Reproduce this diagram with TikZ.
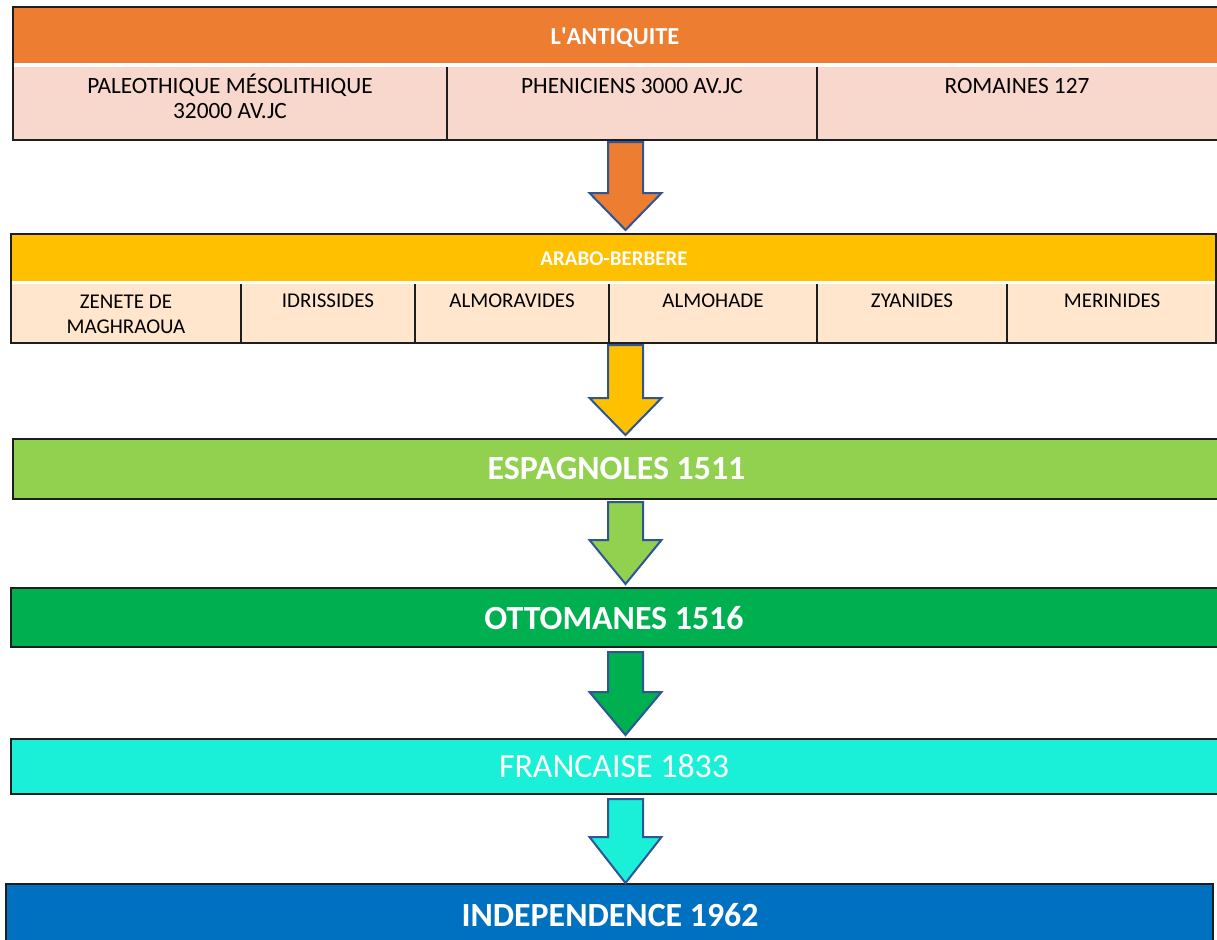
\documentclass[tikz,border=0pt]{standalone}
\usepackage{fontspec}
\setmainfont{Carlito}
\usetikzlibrary{fit}
\definecolor{antiq}{HTML}{ED7D31}
\definecolor{antiqlight}{HTML}{F8D7CD}
\definecolor{arabo}{HTML}{FFC000}
\definecolor{arabolight}{HTML}{FFE6CD}
\definecolor{espa}{HTML}{92D050}
\definecolor{otto}{HTML}{00B050}
\definecolor{fran}{HTML}{1AF0D8}
\definecolor{indep}{HTML}{0070C0}
\definecolor{arrowline}{HTML}{2F5597}
\definecolor{frameline}{HTML}{1E1E1E}
\newcommand{\blockarrowshape}[4]{%
  \filldraw[blockarrow, fill=#1] (608,#2) -- (643,#2) -- (643,#3) -- (661.5,#3) -- (625.5,#4) -- (589.5,#3) -- (608,#3) -- cycle;}
\begin{document}
\begin{tikzpicture}[x=0.75pt,y=-0.75pt,
  region/.style={inner sep=0pt, outer sep=0pt},
  frame/.style={draw=frameline, line width=1.5pt},
  divider/.style={draw=frameline, line width=1.2pt},
  blockarrow/.style={draw=arrowline, line width=1.5pt, line join=miter},
  cell/.style={anchor=base, align=center, inner sep=0pt, text=black, font=\fontsize{17.5}{18.75}\selectfont},
  cellsmall/.style={anchor=base, align=center, inner sep=0pt, text=black, font=\fontsize{15.75}{18.75}\selectfont},
  headtext/.style={anchor=base, inner sep=0pt, text=white, font=\bfseries\fontsize{18.3}{20}\selectfont},
  headsmall/.style={anchor=base, inner sep=0pt, text=white, font=\bfseries\fontsize{15.7}{18}\selectfont},
  bigtext/.style={anchor=base, inner sep=0pt, text=white, font=\bfseries\fontsize{25.4}{30}\selectfont},
  bigplain/.style={anchor=base, inner sep=0pt, text=white, font=\fontsize{25.4}{30}\selectfont}]
\useasboundingbox (0,0) rectangle (1217,939);
\clip (0,0) rectangle (1217,939);
\fill[white] (0,0) rectangle (1217,939);

% ---------- L'ANTIQUITE ----------
\node[region, fit={(13,7) (1225,63)}, fill=antiq] (antiqhead) {};
\node[region, fit={(13,67) (1225,140)}, fill=antiqlight] (antiqcells) {};
\fill[white] (13,63) rectangle (1225,67);
\draw[frame] (13,7) rectangle (1225,140);
\draw[divider] (447,67) -- (447,140);
\draw[divider] (817,67) -- (817,140);
\node[headtext] (antiqtitle) at (615,44) {L\textquotesingle ANTIQUITE};
\node[cell] (paleo) at (230,118) {PALEOTHIQUE MÉSOLITHIQUE\\32000 AV.JC};
\node[cell] (phen) at (632,93) {PHENICIENS 3000 AV.JC};
\node[cell] (rom) at (1017,93) {ROMAINES 127};

% ---------- ARABO-BERBERE ----------
\node[region, fit={(11,234) (1216,281)}, fill=arabo] (arabohead) {};
\node[region, fit={(11,284) (1216,343)}, fill=arabolight] (arabocells) {};
\fill[white] (11,281) rectangle (1216,284);
\draw[frame] (11,234) rectangle (1216,343);
\foreach \dx in {241,415,609,817,1007} {\draw[divider] (\dx,284) -- (\dx,343);}
\node[headsmall] (arabotitle) at (614,265) {ARABO-BERBERE};
\node[cellsmall] (zenete) at (126,333) {ZENETE DE\\MAGHRAOUA};
\node[cellsmall] (idris) at (328,307) {IDRISSIDES};
\node[cellsmall] (almor) at (512,307) {ALMORAVIDES};
\node[cellsmall] (almoh) at (713,307) {ALMOHADE};
\node[cellsmall] (zyan) at (912,307) {ZYANIDES};
\node[cellsmall] (merin) at (1112,307) {MERINIDES};

% ---------- single bands ----------
\node[region, fit={(13,439) (1225,499)}, fill=espa, frame] (espa) {};
\node[bigtext] (espatext) at (616.5,479) {ESPAGNOLES 1511};
\node[region, fit={(11,588) (1225,647)}, fill=otto, frame] (otto) {};
\node[bigtext] (ottotext) at (614,629) {OTTOMANES 1516};
\node[region, fit={(11,739) (1225,794)}, fill=fran, frame] (fran) {};
\node[bigplain] (frantext) at (614,777) {FRANCAISE 1833};
\node[region, fit={(6,884) (1213,955)}, fill=indep, frame] (indep) {};
\node[bigtext] (indeptext) at (610,926) {INDEPENDENCE 1962};

% ---------- block arrows ----------
\blockarrowshape{antiq}{142}{193}{230}
\blockarrowshape{arabo}{345}{398}{435}
\blockarrowshape{espa}{502}{540}{584}
\blockarrowshape{otto}{652}{692}{735}
\blockarrowshape{fran}{799}{837}{883}
\end{tikzpicture}
\end{document}
